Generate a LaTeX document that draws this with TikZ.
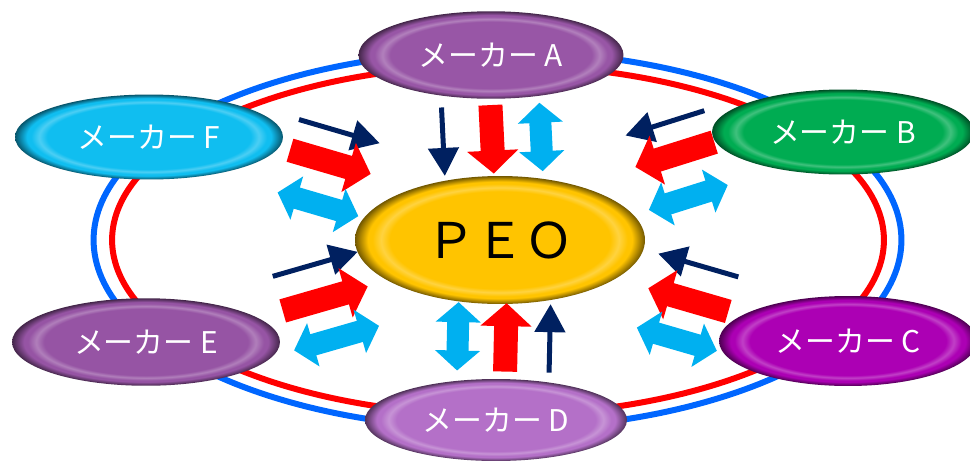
\documentclass[tikz,border=0pt]{standalone}
\usepackage{fontspec}
\usetikzlibrary{shapes.geometric,arrows.meta,calc}
\newfontfamily\jpfont{Noto Sans CJK JP}

\definecolor{ringblue}{RGB}{0,102,255}
\definecolor{ringred}{RGB}{255,0,0}
\definecolor{flownavy}{RGB}{0,32,96}
\definecolor{flowred}{RGB}{255,0,0}
\definecolor{flowcyan}{RGB}{0,176,240}
\definecolor{makerA}{RGB}{152,86,166}
\definecolor{makerB}{RGB}{0,172,82}
\definecolor{makerC}{RGB}{172,0,180}
\definecolor{makerD}{RGB}{180,112,200}
\definecolor{makerE}{RGB}{150,84,164}
\definecolor{makerF}{RGB}{16,190,240}
\definecolor{hubgold}{RGB}{255,196,0}

\colorlet{rimin}{white}
\colorlet{rimhi}{white}
\colorlet{rimout}{black}
\pgfdeclareradialshading[rimin,rimhi,rimout]{rim}{\pgfpoint{0bp}{0bp}}{color(0bp)=(rimin); color(19bp)=(rimin); color(20.5bp)=(rimhi); color(22bp)=(rimin); color(22.8bp)=(rimin); color(25bp)=(rimout); color(50bp)=(rimout)}

\tikzset{
  rim/.style={/utils/exec={\colorlet{rimin}{#1}\colorlet{rimhi}{#1!75!white}\colorlet{rimout}{#1!45!black}}, shade, shading=rim},
  maker/.style={ellipse, minimum width=5.3cm, minimum height=1.75cm, inner sep=0pt, text=white, font=\jpfont\fontsize{17}{17}\selectfont, rim=#1},
  hub/.style={ellipse, minimum width=5.8cm, minimum height=2.56cm, inner sep=0pt, text=black, font=\jpfont\fontsize{28}{28}\selectfont, rim=hubgold},
  navyflow/.style={draw=flownavy, line width=0.1cm, -{Triangle[length=0.56cm, width=0.6cm]}},
  redflow/.style={draw=flowred, line width=0.48cm, -{Triangle[length=0.46cm, width=1cm]}},
  cyanflow/.style={draw=flowcyan, line width=0.44cm, {Triangle[length=0.4cm, width=0.88cm]}-{Triangle[length=0.4cm, width=0.88cm]}}
}

\begin{document}
\begin{tikzpicture}[x=0.02cm, y=-0.02cm]
\def\px{0.02cm}
\useasboundingbox (0,0) rectangle (970,460);

\draw[ringblue, line width=0.12cm] (497.5,240) ellipse [x radius=8.08cm, y radius=3.78cm];
\draw[ringred, line width=0.12cm] (498,240) ellipse [x radius=7.72cm, y radius=3.5cm];

\node[maker=makerA] (A) at (491,55) {メーカー A};
\node[maker=makerB, minimum width=5.24cm, minimum height=1.7cm] (B) at (843,132) {メーカー B};
\node[maker=makerC, minimum width=5.16cm, minimum height=1.8cm] (C) at (848,341) {メーカー C};
\node[maker=makerD, minimum width=5.24cm, minimum height=1.64cm] (D) at (496,420) {メーカー D};
\node[maker=makerE, minimum width=5.36cm] (E) at (146,342) {メーカー E};
\node[maker=makerF, minimum width=5.36cm, minimum height=1.7cm] (F) at (149,137) {メーカー F};
\node[hub] (P) at (500,240) {ＰＥＯ};

\foreach \m/\ta/\tb/\dn/\dr/\dc in {A/.27/.64/-52/-3/46, D/.27/.65/-52/-8/40, F/.38/.61/59/27/-17, E/.38/.62/28/-8/-49, B/.35/.58/-62/-29/16, C/.34/.57/-31/5/46} {
  \draw[navyflow] ($(\m)!\ta!(P)!\dn*\px!90:(P)$) -- ($(\m)!\tb!(P)!\dn*\px!90:(P)$);
  \draw[redflow] ($(\m)!\ta!(P)!\dr*\px!90:(P)$) -- ($(\m)!\tb!(P)!\dr*\px!90:(P)$);
  \draw[cyanflow] ($(\m)!\ta!(P)!\dc*\px!90:(P)$) -- ($(\m)!\tb!(P)!\dc*\px!90:(P)$);
}
\end{tikzpicture}
\end{document}
